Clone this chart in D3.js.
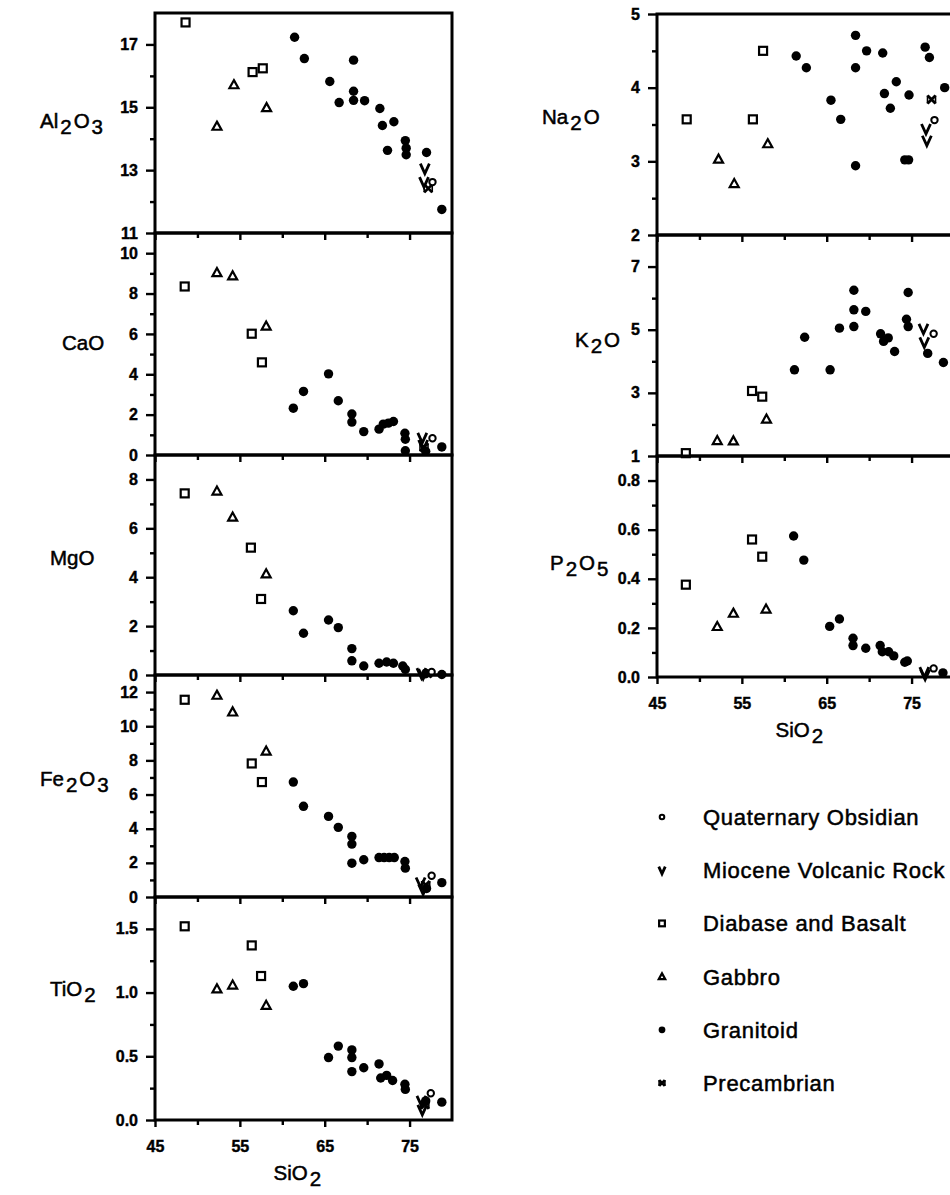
<!DOCTYPE html>
<html>
<head>
<meta charset="utf-8">
<script src="https://cdn.jsdelivr.net/npm/d3@7"></script>
<style>
body { margin: 0; background: #fff; }
svg { display: block; font-family: "Liberation Sans", Arial, sans-serif; }
</style>
</head>
<body>
<div class="chart"></div>
<script>
// rock types, in legend order
let TYPES = ["obs", "mio", "dia", "gab", "gra", "pre"];
let TYPE_NAMES = ["Quaternary Obsidian", "Miocene Volcanic Rock", "Diabase and Basalt", "Gabbro", "Granitoid", "Precambrian"];

let SIO2_DOMAIN = [45, 80];
let SIO2_MAJOR = [45, 55, 65, 75];
let SIO2_MINOR = [50, 60, 70];

// [type, SiO2, oxide]
let al2o3 = [
  ["dia", 48.6, 17.70], ["dia", 56.5, 16.12], ["dia", 57.7, 16.24],
  ["gab", 52.3, 14.40], ["gab", 54.3, 15.72], ["gab", 58.15, 14.99],
  ["gra", 61.45, 17.23], ["gra", 62.6, 16.55], ["gra", 65.6, 15.82], ["gra", 66.7, 15.15],
  ["gra", 68.4, 16.50], ["gra", 68.4, 15.51], ["gra", 68.4, 15.22], ["gra", 69.7, 15.21],
  ["gra", 71.5, 14.96], ["gra", 71.8, 14.42], ["gra", 73.15, 14.54], ["gra", 72.4, 13.63],
  ["gra", 74.5, 13.94], ["gra", 74.6, 13.70], ["gra", 74.6, 13.49], ["gra", 77.0, 13.56],
  ["gra", 78.8, 11.75],
  ["mio", 76.8, 13.05], ["mio", 76.7, 12.62], ["pre", 77.2, 12.42], ["obs", 77.7, 12.62]
];
let cao = [
  ["dia", 48.5, 8.35], ["dia", 56.4, 6.01], ["dia", 57.6, 4.59],
  ["gab", 52.3, 9.04], ["gab", 54.15, 8.88], ["gab", 58.1, 6.39],
  ["gra", 61.3, 2.32], ["gra", 62.5, 3.15], ["gra", 65.45, 4.02], ["gra", 66.6, 2.69],
  ["gra", 68.2, 2.03], ["gra", 68.2, 1.63], ["gra", 69.6, 1.16], ["gra", 71.4, 1.28],
  ["gra", 71.9, 1.53], ["gra", 72.5, 1.58], ["gra", 73.1, 1.66], ["gra", 74.45, 1.08],
  ["gra", 74.5, 0.78], ["gra", 74.5, 0.21], ["gra", 76.9, 0.18], ["gra", 78.8, 0.40],
  ["mio", 76.5, 0.85], ["mio", 76.6, 0.50], ["pre", 76.7, 0.38], ["obs", 77.7, 0.83]
];
let mgo = [
  ["dia", 48.5, 7.43], ["dia", 56.3, 5.21], ["dia", 57.5, 3.11],
  ["gab", 52.3, 7.53], ["gab", 54.15, 6.46], ["gab", 58.1, 4.14],
  ["gra", 61.3, 2.63], ["gra", 62.5, 1.71], ["gra", 65.45, 2.25], ["gra", 66.6, 1.94],
  ["gra", 68.2, 1.08], ["gra", 68.2, 0.58], ["gra", 69.6, 0.37], ["gra", 71.4, 0.48],
  ["gra", 72.3, 0.53], ["gra", 73.1, 0.48], ["gra", 74.2, 0.37], ["gra", 74.5, 0.23],
  ["gra", 76.9, 0.05], ["gra", 78.8, 0.02],
  ["mio", 76.4, 0.08], ["mio", 76.6, 0.04], ["pre", 77.1, 0.06], ["obs", 77.6, 0.12]
];
let fe2o3 = [
  ["dia", 48.5, 11.55], ["dia", 56.4, 7.82], ["dia", 57.6, 6.73],
  ["gab", 52.3, 11.82], ["gab", 54.15, 10.84], ["gab", 58.1, 8.55],
  ["gra", 61.3, 6.73], ["gra", 62.5, 5.31], ["gra", 65.45, 4.72], ["gra", 66.6, 4.08],
  ["gra", 68.2, 3.55], ["gra", 68.2, 3.10], ["gra", 68.2, 1.98], ["gra", 69.6, 2.18],
  ["gra", 71.4, 2.31], ["gra", 72.0, 2.31], ["gra", 72.6, 2.31], ["gra", 73.2, 2.31],
  ["gra", 74.45, 2.08], ["gra", 74.5, 1.69], ["gra", 77.0, 0.50], ["gra", 78.8, 0.84],
  ["mio", 76.3, 0.85], ["mio", 76.6, 0.45], ["pre", 76.9, 0.70], ["obs", 77.6, 1.24]
];
let tio2 = [
  ["dia", 48.5, 1.52], ["dia", 56.4, 1.37], ["dia", 57.5, 1.13],
  ["gab", 52.3, 1.03], ["gab", 54.15, 1.06], ["gab", 58.1, 0.90],
  ["gra", 61.3, 1.05], ["gra", 62.5, 1.07], ["gra", 65.45, 0.49], ["gra", 66.6, 0.58],
  ["gra", 68.2, 0.55], ["gra", 68.2, 0.49], ["gra", 68.2, 0.38], ["gra", 69.6, 0.41],
  ["gra", 71.4, 0.44], ["gra", 71.6, 0.33], ["gra", 72.3, 0.35], ["gra", 73.0, 0.31],
  ["gra", 74.45, 0.28], ["gra", 74.5, 0.24], ["gra", 76.9, 0.15], ["gra", 78.8, 0.14],
  ["mio", 76.4, 0.15], ["mio", 76.5, 0.08], ["pre", 76.8, 0.12], ["obs", 77.5, 0.21]
];
let na2o = [
  ["dia", 48.5, 3.57], ["dia", 56.3, 3.57], ["dia", 57.5, 4.50],
  ["gab", 52.25, 3.03], ["gab", 54.1, 2.70], ["gab", 58.05, 3.24],
  ["gra", 61.4, 4.43], ["gra", 62.6, 4.27], ["gra", 65.5, 3.83], ["gra", 66.65, 3.57],
  ["gra", 68.4, 4.71], ["gra", 68.4, 4.27], ["gra", 68.4, 2.94], ["gra", 69.7, 4.50],
  ["gra", 71.6, 4.47], ["gra", 73.2, 4.08], ["gra", 71.8, 3.92], ["gra", 72.5, 3.72],
  ["gra", 74.7, 3.90], ["gra", 74.2, 3.02], ["gra", 74.65, 3.02], ["gra", 76.6, 4.55],
  ["gra", 77.1, 4.41], ["gra", 78.9, 4.00],
  ["mio", 76.7, 3.44], ["mio", 76.8, 3.28], ["pre", 77.35, 3.84], ["obs", 77.7, 3.56]
];
let k2o = [
  ["dia", 48.4, 1.09], ["dia", 56.2, 3.06], ["dia", 57.4, 2.88],
  ["gab", 52.1, 1.49], ["gab", 54.0, 1.48], ["gab", 57.9, 2.17],
  ["gra", 61.2, 3.73], ["gra", 62.4, 4.76], ["gra", 65.4, 3.73], ["gra", 66.5, 5.05],
  ["gra", 68.2, 6.25], ["gra", 68.2, 5.63], ["gra", 68.2, 5.10], ["gra", 69.6, 5.58],
  ["gra", 71.35, 4.87], ["gra", 71.7, 4.63], ["gra", 72.25, 4.74], ["gra", 73.0, 4.31],
  ["gra", 74.6, 6.18], ["gra", 74.4, 5.33], ["gra", 74.6, 5.10], ["gra", 76.9, 4.25],
  ["gra", 78.75, 3.96],
  ["mio", 76.4, 5.03], ["mio", 76.5, 4.60], ["obs", 77.6, 4.87]
];
let p2o5 = [
  ["dia", 48.4, 0.376], ["dia", 56.2, 0.56], ["dia", 57.4, 0.49],
  ["gab", 52.1, 0.206], ["gab", 54.0, 0.26], ["gab", 57.85, 0.277],
  ["gra", 61.1, 0.574], ["gra", 62.3, 0.476], ["gra", 65.35, 0.206], ["gra", 66.5, 0.236],
  ["gra", 68.1, 0.158], ["gra", 68.1, 0.128], ["gra", 69.6, 0.117], ["gra", 71.3, 0.128],
  ["gra", 71.55, 0.103], ["gra", 72.3, 0.103], ["gra", 72.9, 0.086], ["gra", 74.2, 0.06],
  ["gra", 74.5, 0.065], ["gra", 78.7, 0.017],
  ["mio", 76.5, 0.02], ["mio", 76.6, 0.01], ["obs", 77.6, 0.035]
];

// y axis domains and ticks
let al2o3Domain = [11, 18], al2o3Major = [11, 13, 15, 17], al2o3Minor = [12, 14, 16];
let caoDomain = [0, 11], caoMajor = [0, 2, 4, 6, 8, 10], caoMinor = [1, 3, 5, 7, 9];
let mgoDomain = [0, 9], mgoMajor = [0, 2, 4, 6, 8], mgoMinor = [1, 3, 5, 7];
let fe2o3Domain = [0, 13], fe2o3Major = [0, 2, 4, 6, 8, 10, 12], fe2o3Minor = [1, 3, 5, 7, 9, 11];
let tio2Domain = [0, 1.75], tio2Major = [0, 0.5, 1.0, 1.5], tio2Minor = [0.25, 0.75, 1.25];
let na2oDomain = [2, 5], na2oMajor = [2, 3, 4, 5], na2oMinor = [2.5, 3.5, 4.5];
let k2oDomain = [1, 8], k2oMajor = [1, 3, 5, 7], k2oMinor = [2, 4, 6];
let p2o5Domain = [0, 0.9], p2o5Major = [0, 0.2, 0.4, 0.6, 0.8], p2o5Minor = [0.1, 0.3, 0.5, 0.7];

let FRAME_WIDTH = 950;
let FRAME_HEIGHT = 1195;

let SVG = d3.select(".chart")
  .append("svg")
  .attr("width", FRAME_WIDTH)
  .attr("height", FRAME_HEIGHT);

// two columns of stacked panels
const X_LEFT = d3.scaleLinear().domain(SIO2_DOMAIN).range([155, 452]);
const X_RIGHT = d3.scaleLinear().domain(SIO2_DOMAIN).range([657, 954]);

const INT = d3.format("d");
const ONE = d3.format(".1f");

let PANELS = [
  {data: al2o3, domain: al2o3Domain, major: al2o3Major, minor: al2o3Minor, fmt: INT,
   x: X_LEFT, top: 13, bottom: 233, label: [["Al", 0], ["2", 1], ["O", 0], ["3", 1]], lx: 38, ly: 128},
  {data: cao, domain: caoDomain, major: caoMajor, minor: caoMinor, fmt: INT,
   x: X_LEFT, top: 233, bottom: 455, label: [["CaO", 0]], lx: 60, ly: 350},
  {data: mgo, domain: mgoDomain, major: mgoMajor, minor: mgoMinor, fmt: INT,
   x: X_LEFT, top: 455, bottom: 675, label: [["MgO", 0]], lx: 48, ly: 565},
  {data: fe2o3, domain: fe2o3Domain, major: fe2o3Major, minor: fe2o3Minor, fmt: INT,
   x: X_LEFT, top: 675, bottom: 897, label: [["Fe", 0], ["2", 1], ["O", 0], ["3", 1]], lx: 38, ly: 786},
  {data: tio2, domain: tio2Domain, major: tio2Major, minor: tio2Minor, fmt: ONE,
   x: X_LEFT, top: 897, bottom: 1120, label: [["TiO", 0], ["2", 1]], lx: 48, ly: 996, xLabels: true},
  {data: na2o, domain: na2oDomain, major: na2oMajor, minor: na2oMinor, fmt: INT,
   x: X_RIGHT, top: 14, bottom: 235, label: [["Na", 0], ["2", 1], ["O", 0]], lx: 540, ly: 124},
  {data: k2o, domain: k2oDomain, major: k2oMajor, minor: k2oMinor, fmt: INT,
   x: X_RIGHT, top: 235, bottom: 456, label: [["K", 0], ["2", 1], ["O", 0]], lx: 573, ly: 347},
  {data: p2o5, domain: p2o5Domain, major: p2o5Major, minor: p2o5Minor, fmt: ONE,
   x: X_RIGHT, top: 456, bottom: 677, label: [["P", 0], ["2", 1], ["O", 0], ["5", 1]], lx: 548, ly: 570, xLabels: true}
];

// symbol shapes, drawn around (0,0)
function drawSymbol(sel, type, k) {
  if (type === "gra") {
    sel.append("circle").attr("r", 4.7 * k).attr("fill", "black");
  } else if (type === "obs") {
    sel.append("circle").attr("r", 3.2 * k).attr("fill", "white")
      .attr("stroke", "black").attr("stroke-width", 2);
  } else if (type === "dia") {
    sel.append("rect").attr("x", -4 * k).attr("y", -4 * k)
      .attr("width", 8 * k).attr("height", 8 * k)
      .attr("fill", "white").attr("stroke", "black").attr("stroke-width", 2.2);
  } else if (type === "gab") {
    let s = 4.5 * k;
    sel.append("path").attr("d", `M0,${-s}L${s},${s * 0.8}L${-s},${s * 0.8}Z`)
      .attr("fill", "white").attr("stroke", "black").attr("stroke-width", 2.2)
      .attr("stroke-linejoin", "miter");
  } else if (type === "mio") {
    let s = 4.5 * k;
    sel.append("path").attr("d", `M${-s},${-s * 1.1}L0,${s * 1.1}L${s},${-s * 1.1}`)
      .attr("fill", "none").attr("stroke", "black").attr("stroke-width", 2.8);
  } else if (type === "pre") {
    let s = 4 * k;
    sel.append("path").attr("d", `M${-s},${-s}L${s},${s}M${s},${-s}L${-s},${s}`)
      .attr("fill", "none").attr("stroke", "black").attr("stroke-width", 2.8);
    sel.append("path").attr("d", `M${-s},${-s}L${-s},${s}M${s},${-s}L${s},${s}`)
      .attr("fill", "none").attr("stroke", "black").attr("stroke-width", 1.6);
  }
}

function styleAxis(a) {
  a.select(".domain").remove();
  a.selectAll(".tick line").attr("stroke", "black").attr("stroke-width", 2.4);
  a.selectAll(".tick text").attr("fill", "black")
    .attr("font-size", "16px").attr("font-weight", "bold")
    .attr("stroke", "black").attr("stroke-width", 0.4)
    .attr("font-family", "'Liberation Sans', Arial, sans-serif");
}

function addLabel(parent, parts, x, y, size) {
  let t = parent.append("text")
    .attr("x", x).attr("y", y)
    .attr("font-size", size + "px")
    .attr("fill", "black")
    .attr("stroke", "black").attr("stroke-width", 0.5);
  let prevSub = 0;
  parts.forEach(([s, sub]) => {
    let dy = sub === prevSub ? 0 : (sub ? 6 : -6);
    t.append("tspan").attr("dy", dy).attr("dx", 2).text(s);
    prevSub = sub;
  });
}

PANELS.forEach((p) => {
  const Y_SCALE = d3.scaleLinear().domain(p.domain).range([p.bottom, p.top]);
  const x0 = p.x.range()[0];
  let g = SVG.append("g");

  // left axis, major and minor ticks
  g.append("g").attr("transform", `translate(${x0},0)`)
    .call(d3.axisLeft(Y_SCALE).tickValues(p.major).tickSize(9).tickPadding(8).tickFormat(p.fmt))
    .call(styleAxis);
  g.append("g").attr("transform", `translate(${x0},0)`)
    .call(d3.axisLeft(Y_SCALE).tickValues(p.minor).tickSize(5).tickFormat(""))
    .call(styleAxis);

  // bottom axis
  g.append("g").attr("transform", `translate(0,${p.bottom})`)
    .call(d3.axisBottom(p.x).tickValues(SIO2_MAJOR).tickSize(7).tickPadding(14)
      .tickFormat(p.xLabels ? INT : ""))
    .call(styleAxis);
  g.append("g").attr("transform", `translate(0,${p.bottom})`)
    .call(d3.axisBottom(p.x).tickValues(SIO2_MINOR).tickSize(5).tickFormat(""))
    .call(styleAxis);

  // frame
  g.append("rect")
    .attr("x", x0).attr("y", p.top)
    .attr("width", p.x.range()[1] - x0).attr("height", p.bottom - p.top)
    .attr("fill", "none").attr("stroke", "black").attr("stroke-width", 3);

  // points
  g.selectAll("g.pt")
    .data(p.data)
    .enter()
    .append("g")
      .attr("class", "pt")
      .attr("transform", (d) => `translate(${p.x(d[1])},${Y_SCALE(d[2])})`)
      .each(function (d) { drawSymbol(d3.select(this), d[0], 1); });

  addLabel(SVG, p.label, p.lx, p.ly, 20.5);

  if (p.xLabels) {
    let mid = (p.x.range()[0] + p.x.range()[1]) / 2 - 10;
    addLabel(SVG, [["SiO", 0], ["2", 1]], mid - 22, p.bottom + 60, 20.5);
  }
});

// legend
let LEGEND = SVG.append("g");
TYPES.forEach((t, i) => {
  let yy = 817 + i * 53.2;
  let row = LEGEND.append("g").attr("transform", `translate(662,${yy})`);
  drawSymbol(row, t, 0.72);
  LEGEND.append("text")
    .attr("x", 703).attr("y", yy + 8)
    .attr("font-size", "22px")
    .attr("letter-spacing", "0.7px")
    .attr("fill", "black")
    .attr("stroke", "black").attr("stroke-width", 0.5)
    .text(TYPE_NAMES[i]);
});
</script>
</body>
</html>
